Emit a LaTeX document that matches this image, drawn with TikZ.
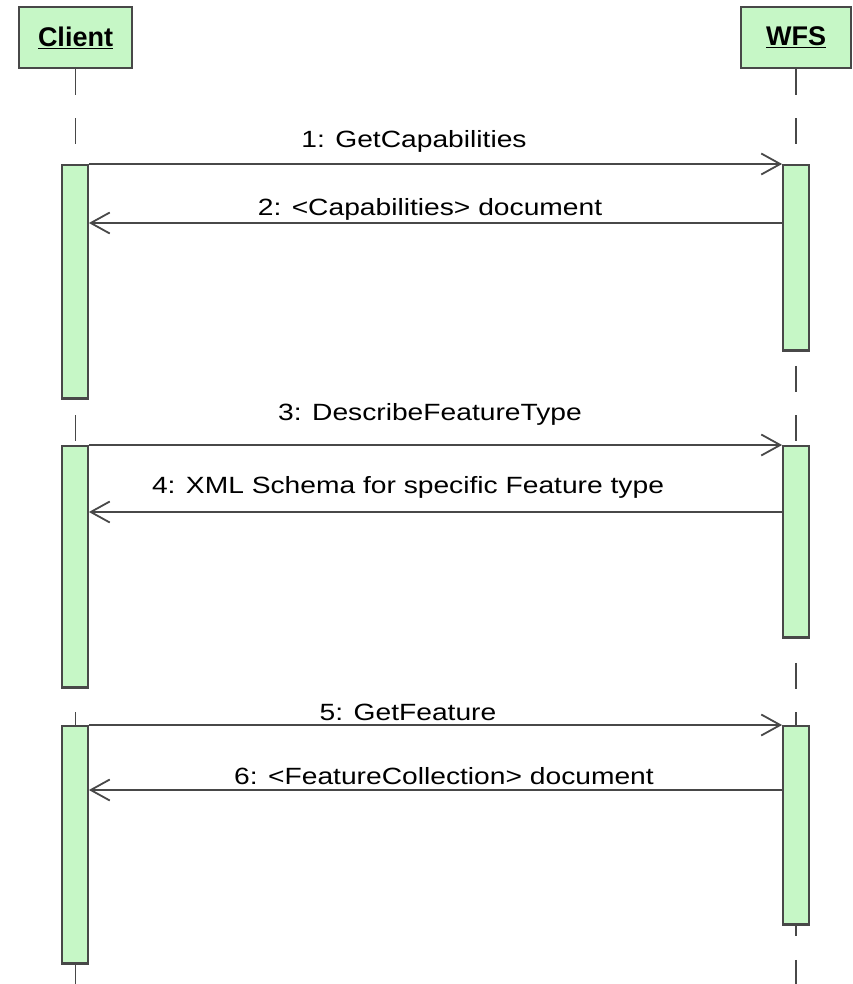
\documentclass[tikz,border=0pt]{standalone}
\usepackage{fontspec}
\setmainfont{Liberation Sans}
\newfontfamily\msgfont[FakeStretch=1.2]{Liberation Sans}
\usetikzlibrary{arrows.meta}
\definecolor{umlgreen}{RGB}{198,247,198}
\definecolor{umlgray}{RGB}{72,72,72}

\begin{document}
\begin{tikzpicture}[x=1pt,y=-1pt,
	head/.style={draw=umlgray,line width=1.8pt,fill=umlgreen,minimum height=61pt,inner sep=0pt,font=\fontsize{27}{30}\selectfont\bfseries},
	bar/.style={draw=umlgray,line width=1.8pt,fill=umlgreen,minimum width=26pt,inner sep=0pt,anchor=north},
	life/.style={draw=umlgray,line width=1.8pt,dash pattern=on 26pt off 23.5pt},
	msg/.style={draw=umlgray,line width=1.8pt,-{Straight Barb[length=19pt,width=21pt,line width=1.8pt]}},
	lbl/.style={anchor=base,inner sep=0pt,font=\msgfont\fontsize{23.5}{26}\selectfont}]
	\useasboundingbox (0,0) rectangle (852,984);
	\coordinate (bottom) at (0,984);
	\coordinate (m2) at (0,223);
	\coordinate (m4) at (0,512);
	\coordinate (m6) at (0,790);
	
	\node[head,minimum width=113pt] (client) at (75.5,37.5) {\raisebox{2pt}{\underline{Client}}};
	\node[head,minimum width=110pt] (wfs) at (796,37.5) {\raisebox{2pt}{\underline{WFS}}};
	\draw[life] (client.south) -- (client.south |- bottom);
	\draw[life] (wfs.south) -- (wfs.south |- bottom);
	
	\node[bar,minimum height=234pt] (c1) at (75,164) {};
	\node[bar,minimum height=242pt] (c2) at (75,445) {};
	\node[bar,minimum height=238pt] (c3) at (75,725) {};
	\node[bar,minimum height=186pt] (w1) at (796,164) {};
	\node[bar,minimum height=192pt] (w2) at (796,445) {};
	\node[bar,minimum height=199pt] (w3) at (796,725) {};
	\foreach \b in {c1,c2,c3,w1,w2,w3}
		\draw[umlgray,line width=3pt] ([yshift=1.5pt]\b.south west) -- ([yshift=1.5pt]\b.south east);
	
	\draw[msg] (c1.north east) -- (w1.north west);
	\draw[msg] (w1.west |- m2) -- (c1.east |- m2);
	\draw[msg] (c2.north east) -- (w2.north west);
	\draw[msg] (w2.west |- m4) -- (c2.east |- m4);
	\draw[msg] (c3.north east) -- (w3.north west);
	\draw[msg] (w3.west |- m6) -- (c3.east |- m6);
	
	\node[lbl] (t1) at (414,148) {1: GetCapabilities};
	\node[lbl] (t2) at (430,215) {2: <Capabilities> document};
	\node[lbl] (t3) at (430,420) {3: DescribeFeatureType};
	\node[lbl] (t4) at (408,493) {4: XML Schema for specific Feature type};
	\node[lbl] (t5) at (408,720) {5: GetFeature};
	\node[lbl] (t6) at (444,784) {6: <FeatureCollection> document};
\end{tikzpicture}
\end{document}
